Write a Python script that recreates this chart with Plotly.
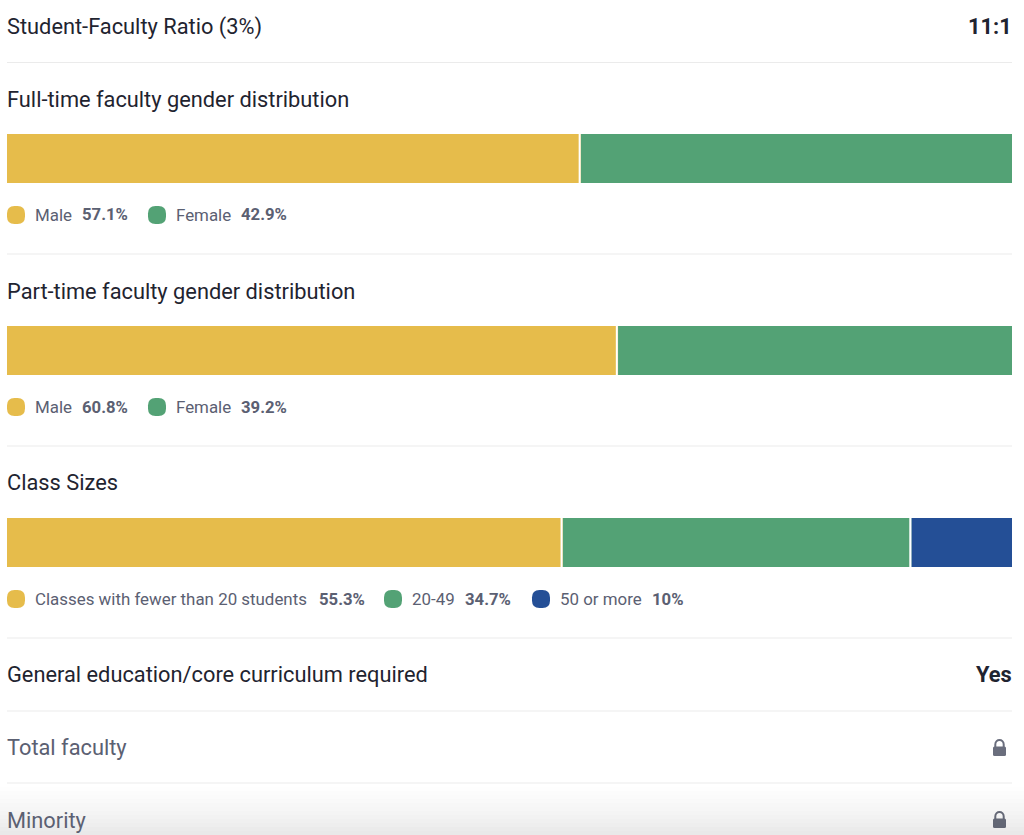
import plotly.graph_objects as go

W, H = 1024, 835
FONT = "Roboto"
YELLOW, GREEN, BLUE = "#e6bc4b", "#53a275", "#244f96"
DARK, MID, SLATE = "#1f2430", "#5b6072", "#6a6e7d"
RULE = "#ebebeb"
TITLE_SIZE, LABEL_SIZE, VALUE_SIZE = 21.8, 16.9, 16.7

# Data
gender_labels = ["Male", "Female"]
fulltime_values = [57.1, 42.9]
parttime_values = [60.8, 39.2]
class_labels = ["Classes with fewer than 20 students", "20-49", "50 or more"]
class_values = [55.3, 34.7, 10]
fulltime_text = ["57.1%", "42.9%"]
parttime_text = ["60.8%", "39.2%"]
class_text = ["55.3%", "34.7%", "10%"]
series_colors = [YELLOW, GREEN, BLUE]


def px(x):
    return x / W


def py(y):
    return 1 - y / H


def rounded(x0, y0, x1, y1, r):
    p = [(x0 + r, y0), (x1 - r, y0), (x1, y0), (x1, y0 + r), (x1, y1 - r), (x1, y1), (x1 - r, y1), (x0 + r, y1),
         (x0, y1), (x0, y1 - r), (x0, y0 + r), (x0, y0), (x0 + r, y0)]
    f = lambda q: f"{px(q[0]):.5f},{py(q[1]):.5f}"
    return (f"M{f(p[0])} L{f(p[1])} Q{f(p[2])} {f(p[3])} L{f(p[4])} Q{f(p[5])} {f(p[6])} "
            f"L{f(p[7])} Q{f(p[8])} {f(p[9])} L{f(p[10])} Q{f(p[11])} {f(p[12])} Z")


fig = go.Figure()
shapes, notes = [], []


def text(x, y, s, size, color, bold=False, anchor="left"):
    notes.append(dict(x=px(x), y=py(y), xref="paper", yref="paper", text=f"<b>{s}</b>" if bold else s,
                      showarrow=False, xanchor=anchor, yanchor="middle", align=anchor,
                      font=dict(family=FONT, size=size, color=color), borderpad=0, borderwidth=0))


def rule(y):
    shapes.append(dict(type="line", xref="paper", yref="paper", x0=px(7), x1=px(1012), y0=py(y), y1=py(y),
                       line=dict(color=RULE, width=1)))


def swatch(x, y, color):
    shapes.append(dict(type="path", xref="paper", yref="paper", path=rounded(x, y - 9, x + 18, y + 9, 7.5),
                       fillcolor=color, line=dict(width=0)))


bars = [(134, 183, fulltime_values, gender_labels), (326, 375, parttime_values, gender_labels),
        (518, 567, class_values, class_labels)]
for i, (top, bottom, values, labels) in enumerate(bars, start=1):
    yname = "y" if i == 1 else f"y{i}"
    xname = "x" if i == 1 else f"x{i}"
    cum = 0
    for j, (v, lab) in enumerate(zip(values, labels)):
        fig.add_trace(go.Bar(x=[v], y=[""], base=[cum], orientation="h", width=1, name=lab,
                             marker=dict(color=series_colors[j], line=dict(width=0)),
                             xaxis=xname, yaxis=yname, showlegend=False, hoverinfo="name+x"))
        cum += v
        if j < len(values) - 1:
            shapes.append(dict(type="line", xref=xname, yref="paper", x0=cum - 0.12, x1=cum - 0.12,
                               y0=py(top), y1=py(bottom), line=dict(color="#ffffff", width=2)))
    axis_common = dict(visible=False, fixedrange=True)
    fig.update_layout({
        f"xaxis{i if i > 1 else ''}": dict(domain=[px(7), px(1012)], range=[0, 100], anchor=yname, **axis_common),
        f"yaxis{i if i > 1 else ''}": dict(domain=[py(bottom), py(top)], anchor=xname, **axis_common),
    })

# Rows
text(7, 27, "Student-Faculty Ratio (3%)", TITLE_SIZE, DARK)
text(1012, 27, "11:1", TITLE_SIZE, DARK, bold=True, anchor="right")
rule(62.5)
text(7, 99, "Full-time faculty gender distribution", TITLE_SIZE, DARK)
rule(254)
text(7, 291, "Part-time faculty gender distribution", TITLE_SIZE, DARK)
rule(446)
text(7, 483, "Class Sizes", TITLE_SIZE, DARK)
rule(638)
text(7, 674, "General education/core curriculum required", TITLE_SIZE, DARK)
text(1012, 674, "Yes", TITLE_SIZE, DARK, bold=True, anchor="right")
rule(711)
text(7, 747, "Total faculty", TITLE_SIZE, MID)
rule(783)
text(7, 820, "Minority", TITLE_SIZE, MID)

# Legends
legend_rows = [
    (215, [(7, 35, 82, gender_labels[0], fulltime_text[0]), (148, 176, 241, gender_labels[1], fulltime_text[1])]),
    (407, [(7, 35, 82, gender_labels[0], parttime_text[0]), (148, 176, 241, gender_labels[1], parttime_text[1])]),
    (599, [(7, 35, 319, class_labels[0], class_text[0]), (384, 412, 465, class_labels[1], class_text[1]),
           (532, 560, 652, class_labels[2], class_text[2])]),
]
for y, items in legend_rows:
    for j, (sx, tx, vx, lab, val) in enumerate(items):
        swatch(sx, y, series_colors[j])
        text(tx, y, lab, LABEL_SIZE, MID)
        text(vx, y, val, VALUE_SIZE, MID, bold=True)


# Lock icons
def lock(cx, cy):
    f = lambda a, b: f"{px(cx + a):.5f},{py(cy + b):.5f}"
    shapes.append(dict(type="path", xref="paper", yref="paper", path=rounded(cx - 6.5, cy - 1.5, cx + 6.5, cy + 8, 1.5),
                       fillcolor=SLATE, line=dict(width=0), layer="above"))
    shapes.append(dict(type="path", xref="paper", yref="paper",
                       path=f"M{f(-4.2, -1)} L{f(-4.2, -3.5)} C{f(-4.2, -9.5)} {f(4.2, -9.5)} {f(4.2, -3.5)} L{f(4.2, -1)}",
                       fillcolor="rgba(0,0,0,0)", line=dict(color=SLATE, width=2), layer="above"))


lock(999.5, 748)
lock(999.5, 820)

# Fade over the bottom of the panel
y = 783
while y < H:
    shapes.append(dict(type="rect", xref="paper", yref="paper", x0=0, x1=1, y0=py(y), y1=py(y + 4),
                       fillcolor="#000000", opacity=0.09 * ((y + 2 - 783) / 52) ** 1.3, line=dict(width=0), layer="above"))
    y += 4

fig.update_layout(width=W, height=H, margin=dict(l=0, r=0, t=0, b=0), paper_bgcolor="#ffffff",
                  plot_bgcolor="#ffffff", barmode="overlay", shapes=shapes, annotations=notes,
                  font=dict(family=FONT), showlegend=False)
fig.write_html("out.html", config=dict(displayModeBar=False),
               post_script="document.body.style.margin='0';document.body.style.overflow='hidden';")
